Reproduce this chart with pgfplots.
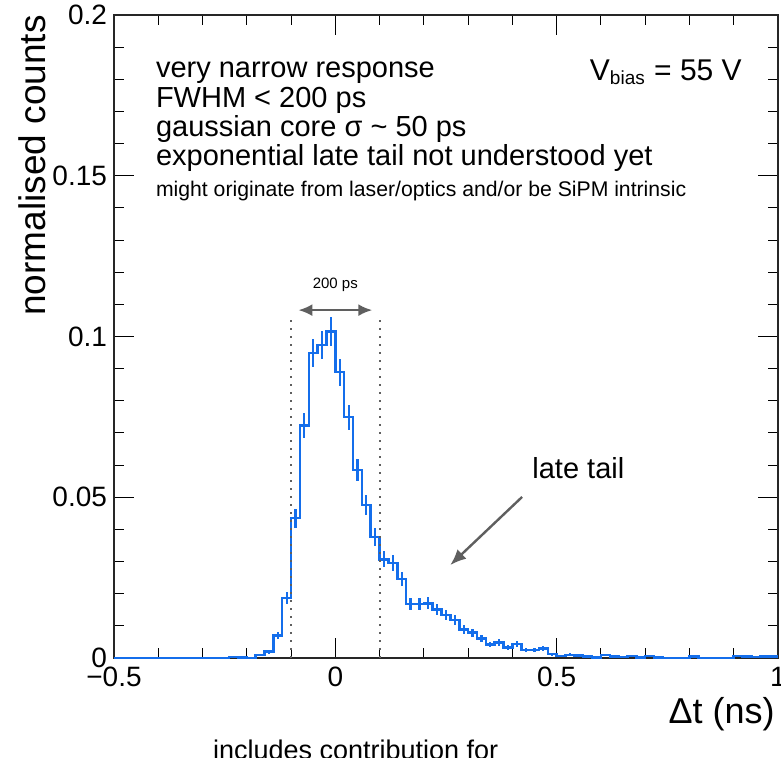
\documentclass[border=0pt]{standalone}
\usepackage{pgfplots}
\pgfplotsset{compat=1.18}
\usepackage{fontspec}
\setmainfont{Liberation Sans}
\usetikzlibrary{arrows.meta}
\definecolor{rootblue}{RGB}{20,110,235}
\definecolor{annogray}{RGB}{95,95,95}
\pgfplotstableread{
x y
-0.50 0
-0.24 0.0003
-0.22 0.0001
-0.20 0
-0.18 0.0009
-0.16 0.0020
-0.14 0.0070
-0.12 0.0186
-0.10 0.0435
-0.08 0.0723
-0.06 0.0948
-0.04 0.0974
-0.02 0.1015
0.00 0.0889
0.02 0.0749
0.04 0.0585
0.06 0.0476
0.08 0.0376
0.10 0.0307
0.12 0.0295
0.14 0.0245
0.16 0.0168
0.18 0.0168
0.20 0.0170
0.22 0.0151
0.24 0.0134
0.26 0.0118
0.28 0.0089
0.30 0.0079
0.32 0.0060
0.34 0.0042
0.36 0.0048
0.38 0.0033
0.40 0.0044
0.42 0.0025
0.44 0.0025
0.46 0.0030
0.48 0.0012
0.50 0.0006
0.52 0.0010
0.54 0.0007
0.56 0.0004
0.58 0.0002
0.60 0.0009
0.62 0.0005
0.64 0.0003
0.66 0.0006
0.68 0.0001
0.70 0.0006
0.72 0.0001
0.74 0
0.80 0.0004
0.82 0
0.90 0.0006
0.92 0.0005
0.94 0.0003
0.96 0.0005
0.98 0.0005
1.00 0.0005
}\histo
\pgfplotstableread{
x y e
-0.23 0.0003 0.00024
-0.17 0.0009 0.00042
-0.15 0.0020 0.00063
-0.13 0.0070 0.00118
-0.11 0.0186 0.00193
-0.09 0.0435 0.00295
-0.07 0.0723 0.0038
-0.05 0.0948 0.00434
-0.03 0.0974 0.0044
-0.01 0.1015 0.0045
0.01 0.0889 0.0042
0.03 0.0749 0.00386
0.05 0.0585 0.00341
0.07 0.0476 0.00308
0.09 0.0376 0.00273
0.11 0.0307 0.00247
0.13 0.0295 0.00242
0.15 0.0245 0.00221
0.17 0.0168 0.00183
0.19 0.0168 0.00183
0.21 0.0170 0.00184
0.23 0.0151 0.00173
0.25 0.0134 0.00163
0.27 0.0118 0.00153
0.29 0.0089 0.00133
0.31 0.0079 0.00125
0.33 0.0060 0.00109
0.35 0.0042 0.00091
0.37 0.0048 0.00098
0.39 0.0033 0.00081
0.41 0.0044 0.00094
0.43 0.0025 0.00071
0.45 0.0025 0.00071
0.47 0.0030 0.00077
0.49 0.0012 0.00049
0.51 0.0006 0.00035
0.53 0.0010 0.00045
0.55 0.0007 0.00037
0.57 0.0004 0.00028
0.59 0.0002 0.0002
0.61 0.0009 0.00042
0.63 0.0005 0.00032
0.65 0.0003 0.00024
0.67 0.0006 0.00035
0.71 0.0006 0.00035
0.81 0.0004 0.00028
0.91 0.0006 0.00035
0.93 0.0005 0.00032
0.95 0.0003 0.00024
0.97 0.0005 0.00032
0.99 0.0005 0.00032
}\errs
\begin{document}
\begin{tikzpicture}
\begin{axis}[
  name=ax,
  scale only axis,
  width=332pt, height=321.5pt,
  xmin=-0.5, xmax=1, ymin=0, ymax=0.2,
  xtick={-0.5,0,0.5,1},
  xticklabels={−0.5,0,0.5,1},
  ytick={0,0.05,0.1,0.15,0.2},
  yticklabels={0,0.05,0.1,0.15,0.2},
  minor x tick num=4, minor y tick num=4,
  major tick length=10pt, minor tick length=5pt,
  tick align=inside,
  tick style={black, line width=0.5pt},
  axis line style={line width=0.8pt, black!85},
  tick label style={font=\fontsize{14}{16}\selectfont},
  xticklabel style={yshift=-1pt},
  clip=false,
]
\addplot[const plot mark left, rootblue, line width=1.25pt, mark=none] table[x=x,y=y]{\histo};
\addplot[draw=none, mark=none, forget plot,
  error bars/.cd, y dir=both, y explicit, error mark=none,
  error bar style={draw=rootblue, line width=1.1pt}] table[x=x,y=y,y error=e]{\errs};

\draw[annogray, line width=1pt, dash pattern=on 1pt off 3pt] (axis cs:-0.1,0) -- (axis cs:-0.1,0.1058);
\draw[annogray, line width=1pt, dash pattern=on 1pt off 3pt] (axis cs:0.1,0) -- (axis cs:0.1,0.1058);
\draw[annogray, line width=1.2pt, {Latex[length=7pt,width=6pt]}-{Latex[length=7pt,width=6pt]}] (axis cs:-0.0835,0.1082) -- (axis cs:0.0835,0.1082);
\node[font=\fontsize{7.5}{9}\selectfont] at (axis cs:0,0.116) {200 ps};

\node[anchor=west, inner sep=0, font=\fontsize{14.5}{16}\selectfont] at (axis cs:-0.406,0.1822) {very narrow response};
\node[anchor=west, inner sep=0, font=\fontsize{14.5}{16}\selectfont] at (axis cs:-0.406,0.1735) {FWHM < 200 ps};
\node[anchor=west, inner sep=0, font=\fontsize{14.5}{16}\selectfont] at (axis cs:-0.406,0.1646) {gaussian core σ \textasciitilde{} 50 ps};
\node[anchor=west, inner sep=0, font=\fontsize{14.5}{16}\selectfont] at (axis cs:-0.406,0.1556) {exponential late tail not understood yet};
\node[anchor=west, inner sep=0, font=\fontsize{10.6}{12}\selectfont] at (axis cs:-0.406,0.1453) {might originate from laser/optics and/or be SiPM intrinsic};
\node[anchor=east, inner sep=0, font=\fontsize{15}{16}\selectfont] at (axis cs:0.919,0.1822) {V\textsubscript{\fontsize{9.5}{10}\selectfont bias} = 55 V};

\node[font=\fontsize{14.5}{16}\selectfont] at (axis cs:0.549,0.0591) {late tail};
\draw[annogray, line width=1.2pt, -{Latex[length=8pt,width=6.5pt]}] (axis cs:0.422,0.0501) -- (axis cs:0.2596,0.0289);

\node[rotate=90, anchor=east, inner sep=0, font=\fontsize{18.5}{20}\selectfont] at ([xshift=-41pt]rel axis cs:0,1) {normalised counts};
\node[anchor=north east, inner sep=0, font=\fontsize{18}{20}\selectfont] at ([xshift=-1.5pt,yshift=-19.5pt]rel axis cs:1,0) {Δt (ns)};
\node[anchor=base, inner sep=0, font=\fontsize{13.5}{15}\selectfont] at ([yshift=-51pt]rel axis cs:0.364,0) {includes contribution for};
\end{axis}
\pgfresetboundingbox
\path[use as bounding box] ([xshift=-57pt,yshift=-50pt]ax.south west) rectangle ([xshift=1.5pt,yshift=7.5pt]ax.north east);
\end{tikzpicture}
\end{document}
